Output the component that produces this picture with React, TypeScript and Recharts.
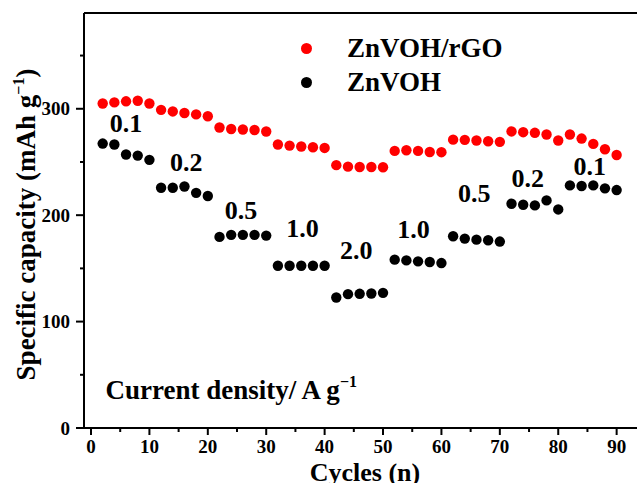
import { ScatterChart, Scatter, XAxis, YAxis, ReferenceLine, ReferenceDot, Legend } from 'recharts'

const FONT = '"Liberation Serif", "DejaVu Serif", serif'

// cycle number of every plotted point (every second cycle)
const cycles = [
  2, 4, 6, 8, 10, 12, 14, 16, 18, 20, 22, 24, 26, 28, 30,
  32, 34, 36, 38, 40, 42, 44, 46, 48, 50, 52, 54, 56, 58, 60,
  62, 64, 66, 68, 70, 72, 74, 76, 78, 80, 82, 84, 86, 88, 90,
]

// ZnVOH/rGO, mAh/g
const rgoCapacity = [
  305, 306, 307, 307.5, 305,
  299, 297.5, 296, 294.7, 293,
  282.4, 281, 280.5, 280, 278.6,
  266.4, 265.4, 264.5, 263.8, 263.2,
  247, 245.6, 245.3, 245.3, 245,
  260.4, 261, 260.4, 259.4, 259.2,
  271, 270.8, 270.2, 269.5, 268.9,
  278.7, 278, 277.4, 275.8, 270.2,
  275.8, 272, 267, 262, 256.6,
]

// ZnVOH, mAh/g
const bareCapacity = [
  267.3, 266.4, 257, 256, 252,
  225.8, 225.8, 227, 221, 218,
  179.6, 181.5, 181.5, 181.5, 180.8,
  152.5, 152.5, 152.5, 152.5, 152.5,
  122.6, 125.8, 126.1, 126.4, 127,
  158.2, 157.5, 156.6, 156, 155,
  180.2, 178, 177, 176.4, 175.2,
  210.7, 209.8, 209.2, 213.9, 205.4,
  228, 227.4, 228, 225.2, 223.6,
]

const seriesNames = ['ZnVOH/rGO', 'ZnVOH']

// current density labels placed over each step
const rateText = ['0.1', '0.2', '0.5', '1.0', '2.0', '1.0', '0.5', '0.2', '0.1']
const rateCycle = [6.0, 16.3, 25.7, 36.2, 45.4, 55.2, 65.6, 74.8, 85.4]
const rateCap = [286.5, 250, 205, 187.5, 166.7, 186.5, 220.5, 235, 246]

const xTicks = [0, 5, 10, 15, 20, 25, 30, 35, 40, 45, 50, 55, 60, 65, 70, 75, 80, 85, 90]
const yTicks = [0, 50, 100, 150, 200, 250, 300, 350]

const rgoData = cycles.map((c, i) => ({ cycle: c, cap: rgoCapacity[i] }))
const bareData = cycles.map((c, i) => ({ cycle: c, cap: bareCapacity[i] }))

const dot = (color: string) => (p: any) => <circle cx={p.cx} cy={p.cy} r={5.2} fill={color} />

const XTick = ({ x, y, payload }: any) => {
  const major = payload.value % 10 === 0
  return (
    <g>
      <line x1={x} x2={x} y1={y} y2={y + (major ? 7 : 4)} stroke="#000" strokeWidth={2} />
      {major && (
        <text x={x} y={y + 25} textAnchor="middle" fontFamily={FONT} fontWeight="bold" fontSize={19} fill="#000">
          {payload.value}
        </text>
      )}
    </g>
  )
}

const YTick = ({ x, y, payload }: any) => {
  const major = payload.value % 100 === 0
  return (
    <g>
      <line x1={x - (major ? 8 : 4)} x2={x} y1={y} y2={y} stroke="#000" strokeWidth={2} />
      {major && (
        <text x={x - 14} y={y} dy="0.35em" textAnchor="end" fontFamily={FONT} fontWeight="bold" fontSize={19} fill="#000">
          {payload.value}
        </text>
      )}
    </g>
  )
}

const YTitle = ({ viewBox }: any) => {
  const x = viewBox.x + 35
  const y = viewBox.y + viewBox.height / 2 + 4
  return (
    <text x={x} y={y} transform={`rotate(-90 ${x} ${y})`} textAnchor="middle" fontFamily={FONT} fontWeight="bold" fontSize={27} fill="#000">
      Specific capacity (mAh g
      <tspan fontSize={16} dy={-11}>−1</tspan>
      <tspan dy={11}>)</tspan>
    </text>
  )
}

const XTitle = ({ viewBox }: any) => (
  <text x={viewBox.x + viewBox.width / 2 + 3} y={viewBox.y + 53} textAnchor="middle" fontFamily={FONT} fontWeight="bold" fontSize={26} fill="#000">
    Cycles (n)
  </text>
)

const DensityNote = ({ viewBox }: any) => (
  <text x={viewBox.x} y={viewBox.y} fontFamily={FONT} fontWeight="bold" fontSize={27} fill="#000">
    Current density/ A g
    <tspan fontSize={16} dy={-12}>−1</tspan>
  </text>
)

const RateLabel = (text: string) => ({ viewBox }: any) => (
  <text x={viewBox.x} y={viewBox.y} dy="0.34em" textAnchor="middle" fontFamily={FONT} fontWeight="bold" fontSize={26} fill="#000">
    {text}
  </text>
)

const LegendBox = ({ payload }: any) => {
  const items = seriesNames
    .map((n) => (payload ?? []).find((p: any) => p.value === n))
    .filter(Boolean)
  return (
    <div style={{ fontFamily: FONT, fontWeight: 'bold', fontSize: 27, color: '#000' }}>
      {items.map((p: any) => (
        <div key={p.value} style={{ display: 'flex', alignItems: 'center', height: 34 }}>
          <span style={{ width: 11, height: 11, borderRadius: '50%', background: p.color, marginRight: 35, display: 'inline-block' }} />
          {p.value}
        </div>
      ))}
    </div>
  )
}

export default function App() {
  return (
    <div style={{ position: 'absolute', left: 0, top: 0, width: 637, height: 483, overflow: 'hidden', background: '#fff' }}>
      <ScatterChart width={652} height={483} margin={{ top: 13, right: 12, left: 0, bottom: 0 }}>
        <XAxis
          type="number"
          dataKey="cycle"
          domain={[-1.2, 94]}
          ticks={xTicks}
          allowDataOverflow
          height={55}
          axisLine={{ stroke: '#000', strokeWidth: 2 }}
          tickLine={false}
          tickSize={0}
          tickMargin={0}
          tick={<XTick />}
          interval={0}
          label={{ content: (p: any) => <XTitle {...p} /> }}
        />
        <YAxis
          type="number"
          dataKey="cap"
          domain={[0, 390]}
          ticks={yTicks}
          allowDataOverflow
          width={84}
          axisLine={{ stroke: '#000', strokeWidth: 2 }}
          tickLine={false}
          tickSize={0}
          tickMargin={0}
          tick={<YTick />}
          interval={0}
          label={{ content: (p: any) => <YTitle {...p} /> }}
        />
        <ReferenceLine y={390} stroke="#000" strokeWidth={2} />
        <Scatter name={seriesNames[0]} data={rgoData} fill="#ff0000" shape={dot('#ff0000')} isAnimationActive={false} />
        <Scatter name={seriesNames[1]} data={bareData} fill="#000000" shape={dot('#000000')} isAnimationActive={false} />
        {rateText.map((t, i) => (
          <ReferenceDot key={i} x={rateCycle[i]} y={rateCap[i]} r={0} fill="none" stroke="none" label={{ content: RateLabel(t) }} />
        ))}
        <ReferenceDot x={2.5} y={27} r={0} fill="none" stroke="none" label={{ content: (p: any) => <DensityNote {...p} /> }} />
        <Legend
          layout="vertical"
          align="center"
          verticalAlign="middle"
          content={<LegendBox />}
          wrapperStyle={{ left: 301, top: 31, width: 260 }}
        />
      </ScatterChart>
    </div>
  )
}
